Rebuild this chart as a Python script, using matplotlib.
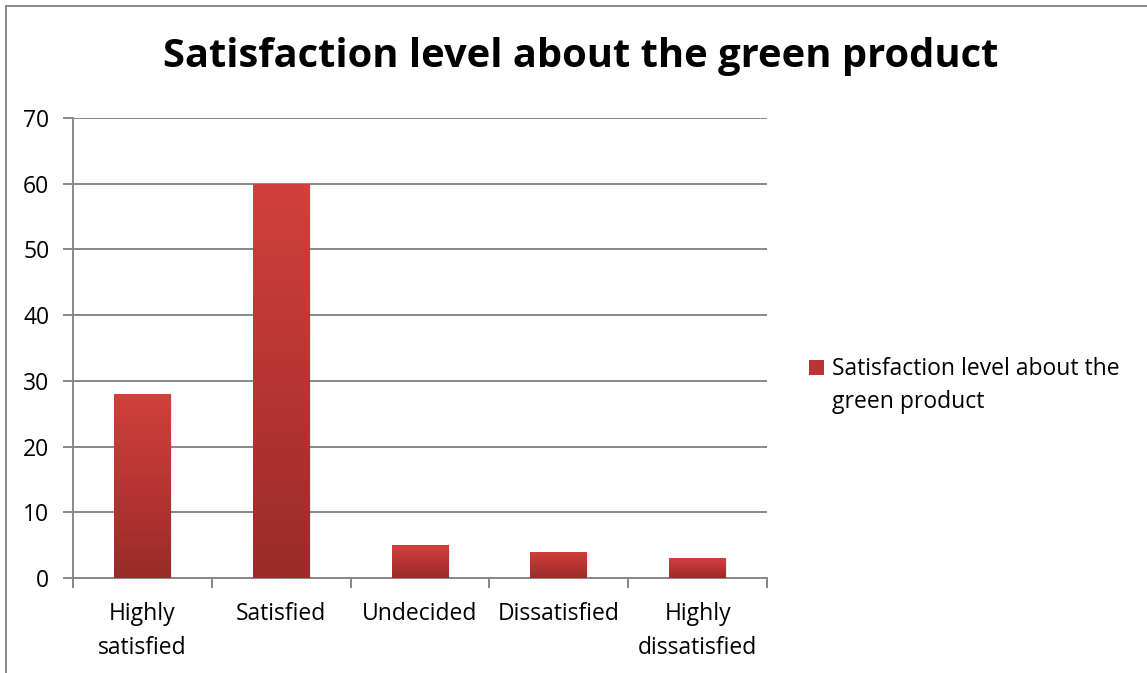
import matplotlib
matplotlib.use("Agg")
import matplotlib.pyplot as plt
import numpy as np
from matplotlib.patches import Rectangle
from matplotlib.lines import Line2D

categories = ["Highly\nsatisfied", "Satisfied", "Undecided", "Dissatisfied", "Highly\ndissatisfied"]
values = [28, 60, 5, 4, 3]
series_name = "Satisfaction level about the\ngreen product"
title = "Satisfaction level about the green product"
yticks = [0, 10, 20, 30, 40, 50, 60, 70]

plt.rcParams['font.family'] = ['Open Sans', 'DejaVu Sans']

W, H = 1147, 673
fig = plt.figure(figsize=(W / 100, H / 100), dpi=100)
ax = fig.add_axes([73 / W, 1 - 578 / H, (767 - 73) / W, (578 - 118) / H])

grid_c = "#888888"
x = np.arange(len(categories))
bw = 0.41
bars = ax.bar(x, values, width=bw, color="#B83533", zorder=3)

top_c = np.array([0xD2, 0x40, 0x3B]) / 255
bot_c = np.array([0x9A, 0x2B, 0x29]) / 255
t = np.linspace(0, 1, 256)[:, None]
grad = (top_c[None, :] * (1 - t) + bot_c[None, :] * t)[:, None, :]
for b in bars:
    x0, w, h = b.get_x(), b.get_width(), b.get_height()
    sh = Rectangle((x0 + 0.01, 0), w, h - 0.12, facecolor="#000000", alpha=0.07,
                   edgecolor="none", zorder=2)
    ax.add_patch(sh)
    im = ax.imshow(grad, extent=[x0, x0 + w, 0, h], aspect="auto", zorder=4,
                   interpolation="bilinear")
    im.set_clip_path(b)
    b.set_alpha(0)

ax.set_xlim(-0.5, len(categories) - 0.5)
ax.set_ylim(0, 70)
ax.set_yticks(yticks)
ax.set_yticklabels([str(v) for v in yticks], fontsize=16.5)
ax.yaxis.grid(True, color=grid_c, linewidth=1.4, zorder=0)
ax.set_axisbelow(True)

ax.set_xticks(x)
ax.set_xticklabels(categories, fontsize=16.5, linespacing=1.55)
ax.set_xticks(np.arange(-0.5, len(categories)), minor=True)
ax.tick_params(axis="x", which="major", length=0, pad=17)
ax.tick_params(axis="x", which="minor", length=7, width=1.4, color=grid_c)
ax.tick_params(axis="y", length=7, width=1.4, color=grid_c, pad=10)
for s in ["top", "right"]:
    ax.spines[s].set_visible(False)
for s in ["left", "bottom"]:
    ax.spines[s].set_color(grid_c)
    ax.spines[s].set_linewidth(1.4)

fig.text(581 / W, 1 - 57 / H, title, fontsize=28.7, fontweight="bold",
         ha="center", va="center")

# legend (marker aligned with first text line)
mk = Rectangle((809 / W, 1 - 375 / H), 15 / W, 15 / H, transform=fig.transFigure,
               facecolor="#B83533", edgecolor="none")
fig.add_artist(mk)
fig.text(832 / W, 1 - 357 / H, series_name, fontsize=16.5, ha="left", va="top",
         linespacing=1.5)

# figure border (left & top)
fig.add_artist(Line2D([6 / W, 6 / W], [0, 1 - 6 / H], color="#888888", linewidth=1.4,
                      transform=fig.transFigure))
fig.add_artist(Line2D([6 / W, 1], [1 - 6 / H, 1 - 6 / H], color="#888888", linewidth=1.4,
                      transform=fig.transFigure))

fig.savefig("out.png", dpi=100)
